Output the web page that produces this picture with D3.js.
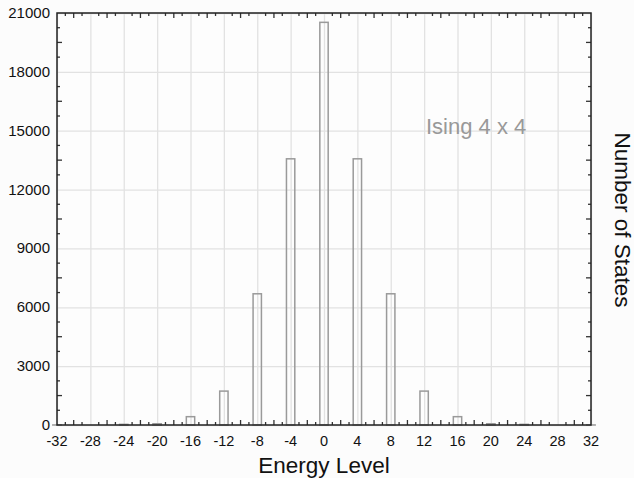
<!DOCTYPE html>
<html>
<head>
<meta charset="utf-8">
<script src="https://cdn.jsdelivr.net/npm/d3@7"></script>
<style>
  body { margin: 0; background: #fcfcfc; }
  svg { display: block; }
</style>
</head>
<body>
<svg id="chart" width="634" height="478"></svg>
<script>
// density of states, Ising 4 x 4
let energyLevels = [-32, -28, -24, -20, -16, -12, -8, -4, 0, 4, 8, 12, 16, 20, 24, 28, 32];
let stateCounts = [2, 0, 32, 64, 424, 1728, 6688, 13568, 20524, 13568, 6688, 1728, 424, 64, 32, 0, 2];
let xTicks = [-32, -28, -24, -20, -16, -12, -8, -4, 0, 4, 8, 12, 16, 20, 24, 28, 32];
let yTicks = [0, 3000, 6000, 9000, 12000, 15000, 18000, 21000];

let font = "'Liberation Sans', Arial, Helvetica, sans-serif";
let plotLeft = 57, plotRight = 591, plotTop = 13, plotBottom = 425;

let svg = d3.select("#chart");

let xScale = d3.scaleLinear().domain([-32, 32]).range([plotLeft, plotRight]);
let yScale = d3.scaleLinear().domain([0, 21000]).range([plotBottom, plotTop]);

svg.append("rect")
    .attr("x", plotLeft).attr("y", plotTop)
    .attr("width", plotRight - plotLeft).attr("height", plotBottom - plotTop)
    .attr("fill", "#fdfdfd");

// grid lines
svg.append("g")
    .attr("transform", "translate(0," + plotBottom + ")")
    .call(d3.axisBottom(xScale).tickValues(xTicks).tickSize(-(plotBottom - plotTop)).tickFormat(""))
    .call(g => g.select(".domain").remove())
    .selectAll("line").attr("stroke", "#e2e2e2").attr("stroke-width", 1.3);

svg.append("g")
    .attr("transform", "translate(" + plotLeft + ",0)")
    .call(d3.axisLeft(yScale).tickValues(yTicks).tickSize(-(plotRight - plotLeft)).tickFormat(""))
    .call(g => g.select(".domain").remove())
    .selectAll("line").attr("stroke", "#e2e2e2").attr("stroke-width", 1.3);

// bars
let data = energyLevels.map((e, i) => ({ e: e, n: stateCounts[i] }));
let barW = xScale(0.5) - xScale(-0.5);
svg.selectAll(".bar")
    .data(data.filter(d => d.n > 0))
    .enter()
    .append("rect")
    .attr("class", "bar")
    .attr("x", d => xScale(d.e) - barW / 2)
    .attr("y", d => yScale(d.n))
    .attr("width", barW)
    .attr("height", d => yScale(0) - yScale(d.n))
    .attr("fill", "none")
    .attr("stroke", "#9a9a9a")
    .attr("stroke-width", 1.5);

// minor ticks, inward on all four sides
let minorX = d3.range(-31, 32).filter(v => v % 4 != 0);
let minorY = d3.range(750, 21000, 750).filter(v => v % 3000 != 0);
let tickG = svg.append("g").attr("stroke", "#333").attr("stroke-width", 1.3);
minorX.forEach(v => {
    let len = v % 2 == 0 ? 5 : 3;
    tickG.append("line").attr("x1", xScale(v)).attr("x2", xScale(v))
        .attr("y1", plotBottom).attr("y2", plotBottom - len);
    tickG.append("line").attr("x1", xScale(v)).attr("x2", xScale(v))
        .attr("y1", plotTop).attr("y2", plotTop + len);
});
minorY.forEach(v => {
    let len = v % 1500 == 0 ? 5 : 3;
    tickG.append("line").attr("x1", plotLeft).attr("x2", plotLeft + len)
        .attr("y1", yScale(v)).attr("y2", yScale(v));
    tickG.append("line").attr("x1", plotRight).attr("x2", plotRight - len)
        .attr("y1", yScale(v)).attr("y2", yScale(v));
});

// frame
svg.append("rect")
    .attr("x", plotLeft).attr("y", plotTop)
    .attr("width", plotRight - plotLeft).attr("height", plotBottom - plotTop)
    .attr("fill", "none")
    .attr("stroke", "#222")
    .attr("stroke-width", 1.5);

// tick labels
svg.selectAll(".xlab")
    .data(xTicks)
    .enter()
    .append("text")
    .attr("x", d => xScale(d))
    .attr("y", 446)
    .text(d => d)
    .style("font-family", font)
    .style("font-size", "14.5px")
    .style("text-anchor", "middle")
    .style("fill", "#111");

svg.selectAll(".ylab")
    .data(yTicks)
    .enter()
    .append("text")
    .attr("x", 50)
    .attr("y", d => yScale(d) + 5)
    .text(d => d)
    .style("font-family", font)
    .style("font-size", "15px")
    .style("text-anchor", "end")
    .style("fill", "#111");

// axis titles
svg.append("text")
    .attr("x", 324)
    .attr("y", 473)
    .text("Energy Level")
    .style("font-family", font)
    .style("font-size", "22.5px")
    .style("text-anchor", "middle")
    .style("fill", "#111");

svg.append("text")
    .attr("transform", "translate(615,220) rotate(90)")
    .text("Number of States")
    .style("font-family", font)
    .style("font-size", "22.5px")
    .style("text-anchor", "middle")
    .style("fill", "#111");

// annotation
svg.append("text")
    .attr("x", 426)
    .attr("y", 134)
    .text("Ising 4 x 4")
    .style("font-family", font)
    .style("font-size", "22px")
    .style("fill", "#999");
</script>
</body>
</html>
